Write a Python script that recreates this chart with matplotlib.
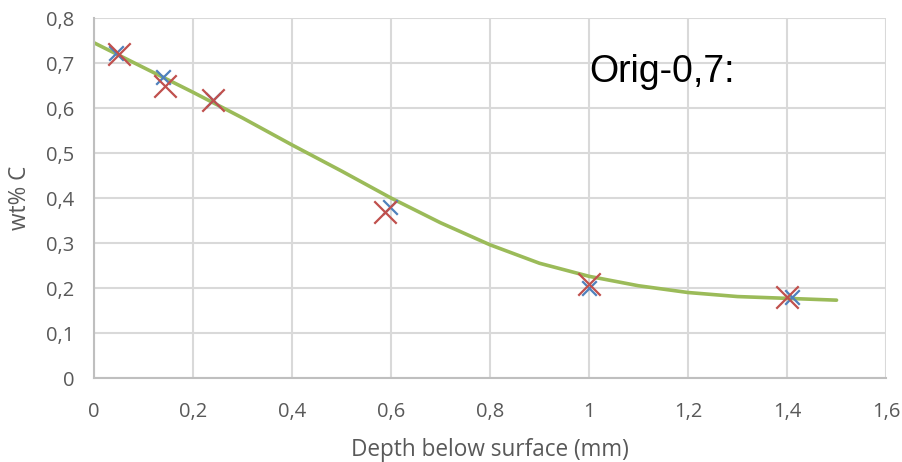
import numpy as np
import matplotlib
matplotlib.use("Agg")
import matplotlib.pyplot as plt
from matplotlib.ticker import FuncFormatter, MultipleLocator

# measured points (two series) and model curve
depth_a = [0.044, 0.14, 0.24, 0.598, 1.0, 1.41]
carbon_a = [0.722, 0.669, 0.618, 0.38, 0.20, 0.18]

depth_b = [0.05, 0.143, 0.24, 0.588, 1.0, 1.40]
carbon_b = [0.72, 0.648, 0.618, 0.37, 0.21, 0.18]

model_depth = [0.0, 0.1, 0.2, 0.3, 0.4, 0.5, 0.6, 0.7, 0.8, 0.9, 1.0, 1.1, 1.2, 1.3, 1.4, 1.5]
model_carbon = [0.745, 0.69, 0.635, 0.578, 0.518, 0.46, 0.40, 0.345, 0.296, 0.255, 0.226, 0.205, 0.19, 0.181, 0.177, 0.173]

label_text = "Orig-0,7:"

fig = plt.figure(figsize=(9.02, 4.62), dpi=100)
ax = fig.add_axes([0.1042, 0.1818, 0.8781, 0.7792])

ax.plot(model_depth, model_carbon, color="#9bbb59", lw=2.6, zorder=2,
        solid_capstyle="round")
ax.scatter(depth_a, carbon_a, marker="x", s=110, color="#4f81bd", lw=1.6, zorder=3)
ax.scatter(depth_b, carbon_b, marker="x", s=260, color="#c0504d", lw=1.6, zorder=4)

ax.set_xlim(0, 1.6)
ax.set_ylim(0, 0.8)
ax.xaxis.set_major_locator(MultipleLocator(0.2))
ax.yaxis.set_major_locator(MultipleLocator(0.1))


def comma_fmt(v, pos):
    s = f"{v:.1f}".rstrip("0").rstrip(".")
    return s.replace(".", ",")


ax.xaxis.set_major_formatter(FuncFormatter(comma_fmt))
ax.yaxis.set_major_formatter(FuncFormatter(comma_fmt))

ax.grid(True, color="#d9d9d9", lw=1.5)
ax.set_axisbelow(True)
for side in ["top", "right"]:
    ax.spines[side].set_visible(False)
for side in ["left", "bottom"]:
    ax.spines[side].set_color("#bfbfbf")
    ax.spines[side].set_linewidth(1.5)
ax.tick_params(length=0, colors="#595959", labelsize=14.5)
ax.tick_params(axis="x", pad=17)
ax.tick_params(axis="y", pad=14)
for lab in ax.get_xticklabels() + ax.get_yticklabels():
    lab.set_fontfamily("Open Sans")

ax.set_xlabel("Depth below surface (mm)", color="#595959", fontsize=16.3,
              family="Open Sans", labelpad=12)
ax.set_ylabel("wt% C", color="#595959", fontsize=16.3, family="Open Sans",
              labelpad=10)

ax.text(1.0, 0.68, label_text, fontsize=27, family="Liberation Sans",
        color="black", ha="left", va="center")

fig.savefig("out.png", dpi=100)
